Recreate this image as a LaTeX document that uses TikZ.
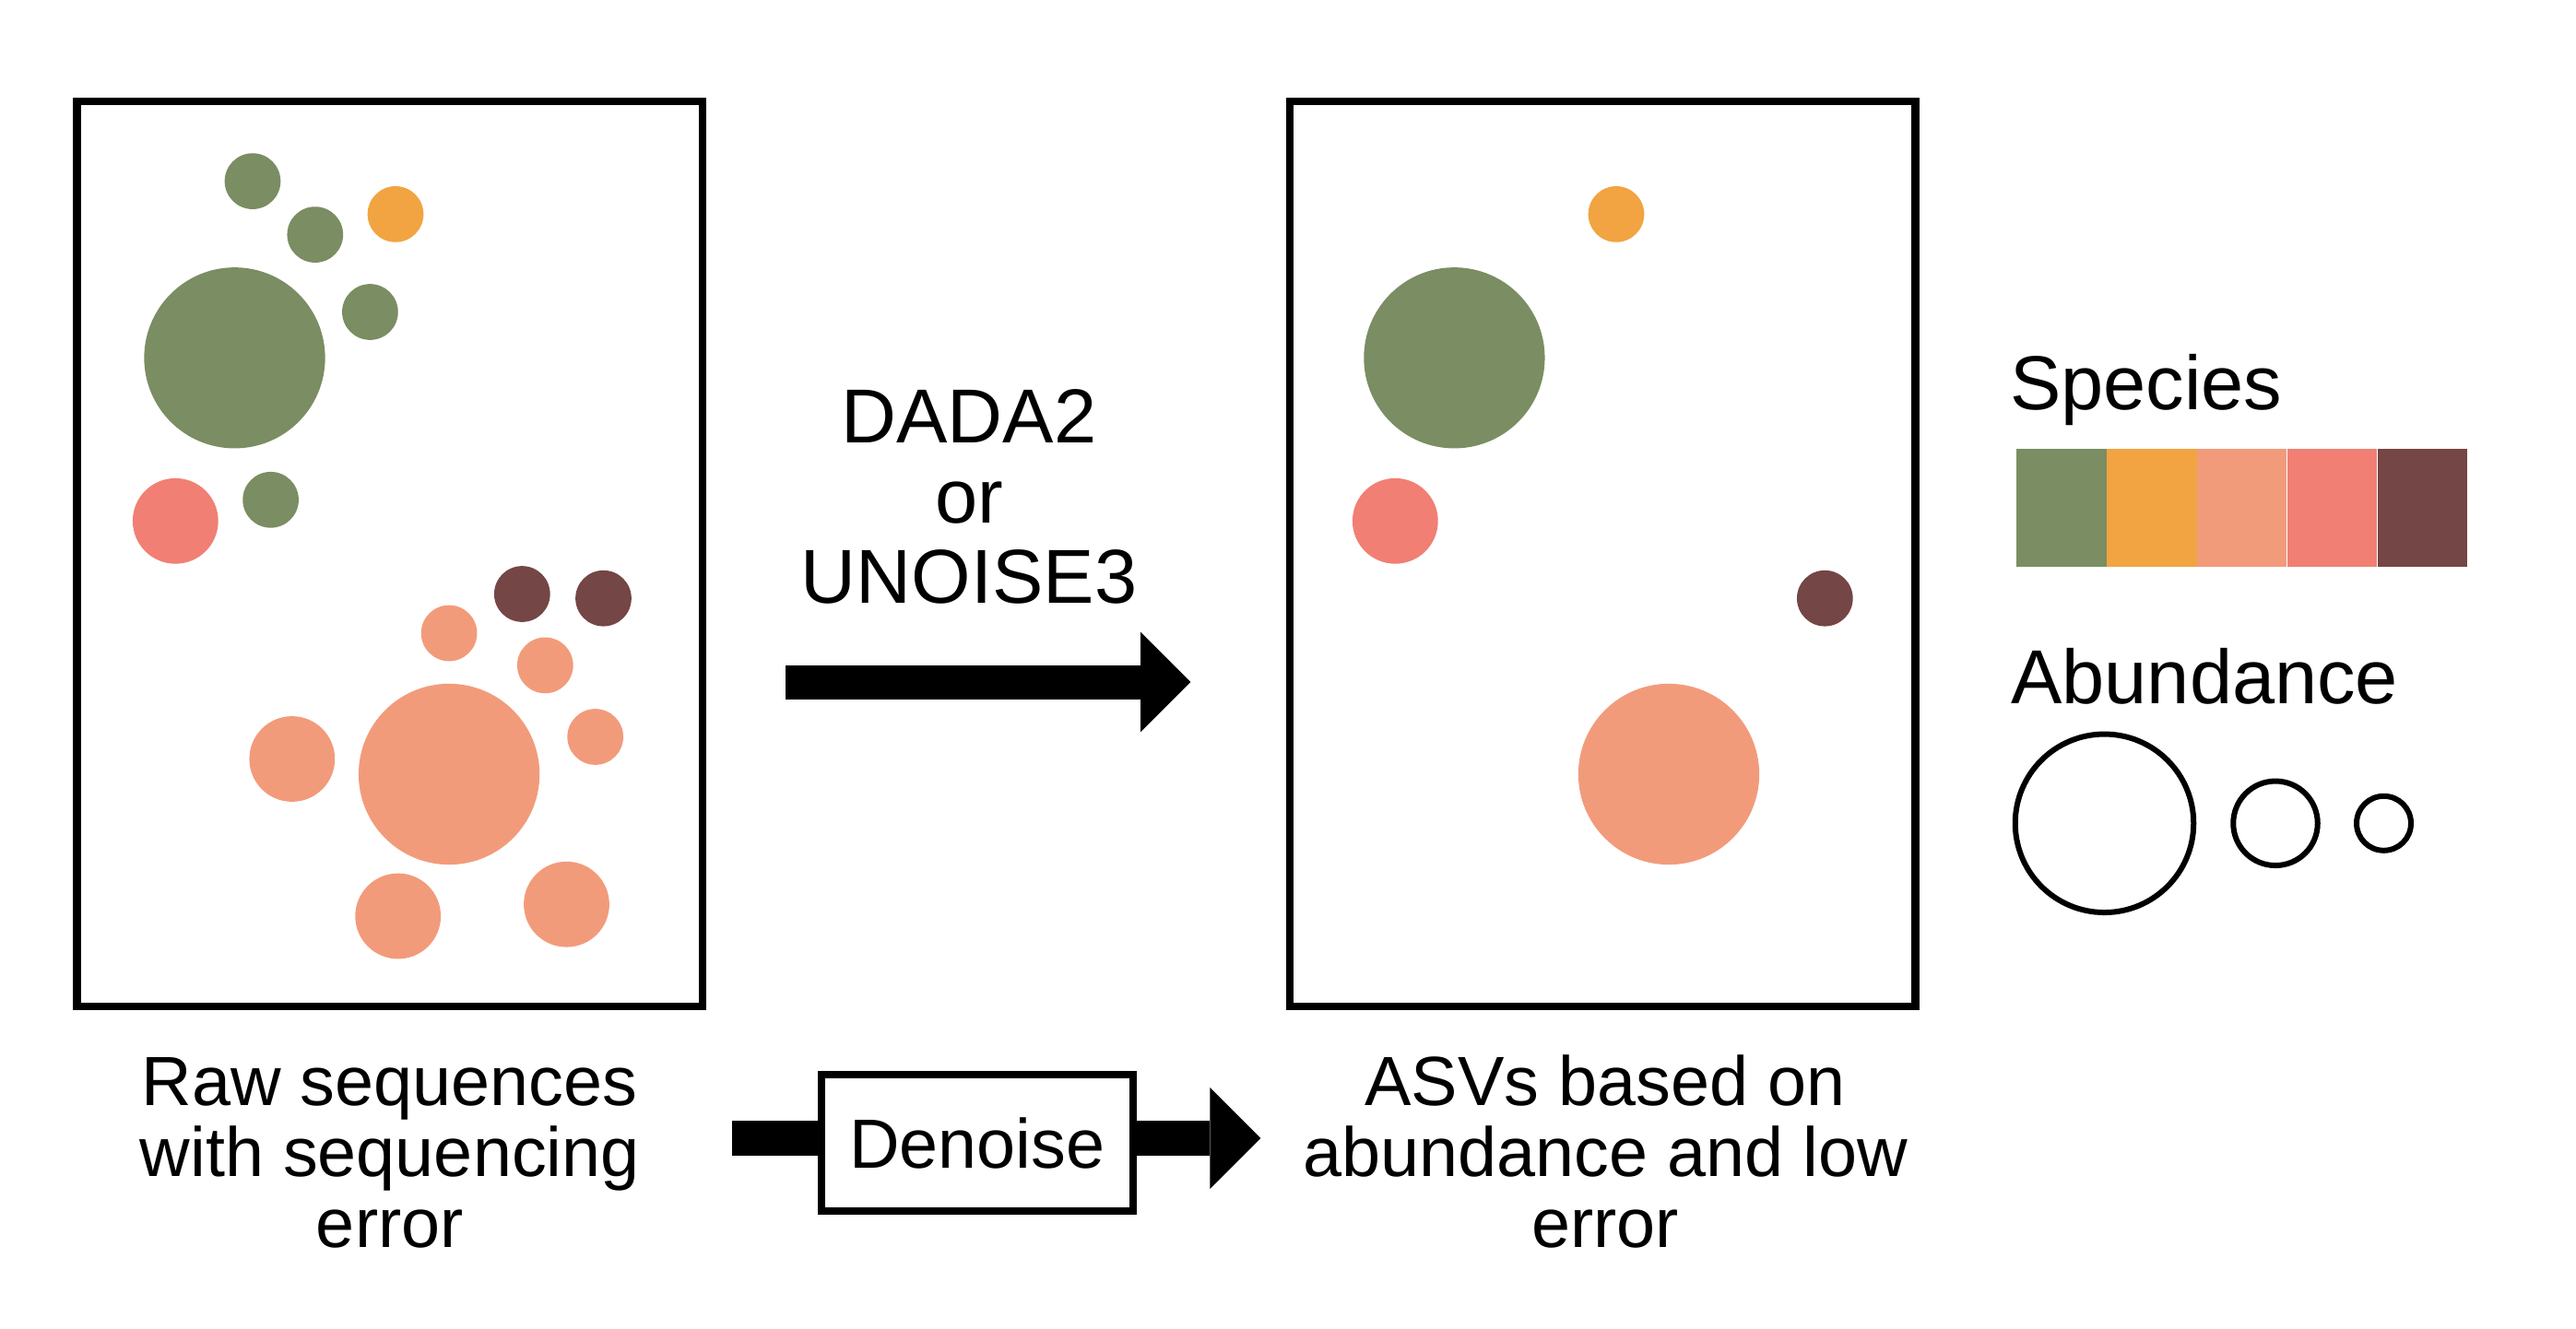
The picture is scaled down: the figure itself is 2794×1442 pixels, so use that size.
\documentclass[tikz,border=0pt]{standalone}
\usepackage{fontspec}
\setmainfont{Liberation Sans}
\usetikzlibrary{calc}
\definecolor{cgreen}{HTML}{7B8D63}
\definecolor{corange}{HTML}{F1A441}
\definecolor{csalmon}{HTML}{F29B7B}
\definecolor{cred}{HTML}{F17F74}
\definecolor{cbrown}{HTML}{744645}
\begin{document}
\begin{tikzpicture}[x=1pt,y=-1pt,
  dot/.style={circle, inner sep=0pt, draw=none, fill=#1},
  sdot/.style={dot=#1, minimum size=60.7pt},
  mdot/.style={dot=#1, minimum size=92.8pt},
  bdot/.style={dot=#1, minimum size=196.3pt},
  frame/.style={draw, line width=8.5pt, inner sep=0pt, minimum width=678.5pt, minimum height=981.8pt},
  lbl/.style={font=\fontsize{75.6}{76.9}\selectfont, align=center, inner sep=0pt},
  biglbl/.style={font=\fontsize{83}{87.1}\selectfont, align=center, inner sep=0pt},
  ring/.style={circle, draw, line width=6pt, inner sep=0pt, fill=none},
  swatch/.style={fill=#1, draw=none, inner sep=0pt, minimum width=97.46pt, minimum height=128pt}
]
\path[use as bounding box] (0,0) rectangle (2794,1442);

% boxes
\node[frame] (left) at (422.8,601.15) {};
\node[frame] (right) at (1738.2,601.15) {};

% left box circles
\node[sdot=cgreen] (g1) at (274,196.6) {};
\node[sdot=cgreen] (g2) at (341.8,254.6) {};
\node[sdot=corange] (o1) at (429,232.4) {};
\node[bdot=cgreen] (gbig) at (254.5,388.3) {};
\node[sdot=cgreen] (g3) at (401.4,338.5) {};
\node[mdot=cred] (r1) at (190.3,565.3) {};
\node[sdot=cgreen] (g4) at (293.6,542.3) {};
\node[sdot=cbrown] (b1) at (566.3,644.5) {};
\node[sdot=cbrown] (b2) at (654.5,649.2) {};
\node[sdot=csalmon] (s1) at (487.1,687.0) {};
\node[sdot=csalmon] (s2) at (591.3,721.9) {};
\node[mdot=csalmon] (sm1) at (316.8,823.5) {};
\node[bdot=csalmon] (sbig) at (487.1,840.0) {};
\node[sdot=csalmon] (s3) at (645.7,799.5) {};
\node[mdot=csalmon] (sm2) at (431.7,994.0) {};
\node[mdot=csalmon] (sm3) at (614.5,981.2) {};

% right box circles
\node[sdot=corange] (ro) at (1753,232.4) {};
\node[bdot=cgreen] (rg) at (1577.4,388.3) {};
\node[mdot=cred] (rr) at (1513.3,565.3) {};
\node[sdot=cbrown] (rb) at (1979.3,649.2) {};
\node[bdot=csalmon] (rs) at (1810,840.0) {};

% method label and arrow
\node[biglbl, anchor=base] (method) at (1051,654.6) {DADA2\\or\\UNOISE3};
\coordinate (a0) at (852,740);
\coordinate (a1) at (1237,740);
\coordinate (atip) at (1291.3,740);
\fill ($(a0)+(0,-18.5)$) rectangle ($(a1)+(0,18.5)$);
\fill ($(a1)+(0,-54.4)$) -- (atip) -- ($(a1)+(0,54.4)$) -- cycle;

% captions
\node[lbl, anchor=base] (rawcap) at (422.8,1353.3) {Raw sequences\\with sequencing\\error};
\node[lbl, anchor=base] (asvcap) at (1741,1353.3) {ASVs based on\\abundance and low\\error};

% denoise
\node[draw, line width=8.1pt, inner sep=0pt, minimum width=337.5pt, minimum height=148.5pt, font=\fontsize{75.6}{76.9}\selectfont] (den) at (1059.8,1240) {Denoise};
\coordinate (dl) at (794,1235);
\fill ($(dl)+(0,-18.7)$) rectangle ($(den.west |- dl)+(0,18.7)$);
\coordinate (dr) at (1312.4,1235);
\coordinate (dtip) at (1367.3,1235);
\fill ($(den.east |- dr)+(0,-18.7)$) rectangle ($(dr)+(0,18.7)$);
\fill ($(dr)+(0,-54.9)$) -- (dtip) -- ($(dr)+(0,54.9)$) -- cycle;

% legend
\node[biglbl, anchor=base west] (species) at (2180,444.3) {Species};
\node[swatch=cgreen, anchor=north west] (k1) at (2187,487) {};
\node[swatch=corange, anchor=north west] (k2) at (k1.north east) {};
\node[swatch=csalmon, anchor=north west] (k3) at (k2.north east) {};
\node[swatch=cred, anchor=north west] (k4) at (k3.north east) {};
\node[swatch=cbrown, anchor=north west] (k5) at (k4.north east) {};
\node[biglbl, anchor=base west] (abund) at (2181,763.3) {Abundance};
\node[ring, minimum size=193.5pt] (c1) at (2282.5,893.3) {};
\node[ring, minimum size=91.5pt] (c2) at (2468,893.3) {};
\node[ring, minimum size=59pt] (c3) at (2585.5,893.3) {};
\end{tikzpicture}
\end{document}
